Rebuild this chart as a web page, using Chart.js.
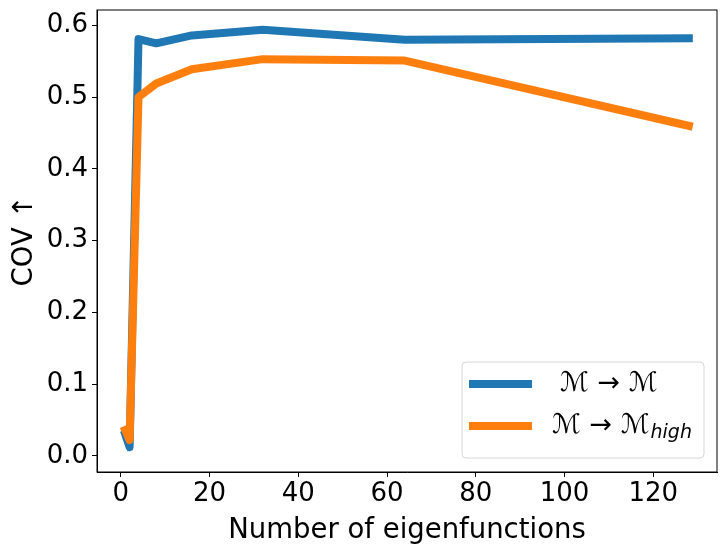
<!DOCTYPE html>
<html>
<head>
<meta charset="utf-8">
<script src="https://cdn.jsdelivr.net/npm/chart.js@4/dist/chart.umd.min.js"></script>
<style>
  html, body { margin: 0; padding: 0; background: #fff; }
  #wrap { width: 727px; height: 553px; }
</style>
</head>
<body>
<div id="wrap"><canvas id="myChart"></canvas></div>
<script>
var eigenCounts = [1, 2, 4, 8, 16, 32, 64, 128];
var covSame = [0.030, 0.012, 0.581, 0.575, 0.586, 0.594, 0.580, 0.582];
var covHigh = [0.036, 0.022, 0.500, 0.519, 0.539, 0.553, 0.551, 0.460];
var xTicks = [0, 20, 40, 60, 80, 100, 120];
var yTicks = [0.0, 0.1, 0.2, 0.3, 0.4, 0.5, 0.6];
var seriesNames = ['ℳ → ℳ', 'ℳ → ℳ'];
var seriesSub = ['', 'high'];

var blue = '#1f77b4';
var orange = '#ff7f0e';
var font = 'DejaVu Sans';

function toPoints(xs, ys) {
  return xs.map(function (x, i) { return { x: x, y: ys[i] }; });
}

// box round the plot and the legend in the lower right corner
var framePlugin = {
  id: 'frame',
  afterDraw: function (chart) {
    var c = chart.ctx;
    var a = chart.chartArea;
    c.save();
    c.strokeStyle = '#000';
    c.lineWidth = 1;
    c.strokeRect(a.left, a.top, a.right - a.left, a.bottom - a.top);

    var bx = a.right - 255, by = a.bottom - 110, bw = 242, bh = 96;
    c.beginPath();
    c.roundRect(bx, by, bw, bh, 4);
    c.fillStyle = 'rgba(255,255,255,0.8)';
    c.fill();
    c.strokeStyle = '#d6d6d6';
    c.stroke();

    var colors = [blue, orange];
    var textX = [bx + 98, bx + 90];
    for (var i = 0; i < 2; i++) {
      var ly = by + 22 + i * 42;
      c.strokeStyle = colors[i];
      c.lineWidth = 8;
      c.lineCap = 'butt';
      c.beginPath();
      c.moveTo(bx + 7, ly);
      c.lineTo(bx + 70, ly);
      c.stroke();

      c.fillStyle = '#000';
      c.textBaseline = 'middle';
      c.font = '27px "' + font + '"';
      c.fillText(seriesNames[i], textX[i], ly);
      if (seriesSub[i]) {
        var w = c.measureText(seriesNames[i]).width;
        c.font = 'italic 19px "' + font + '"';
        c.fillText(seriesSub[i], textX[i] + w + 1, ly + 7);
      }
    }
    c.restore();
  }
};

var ctx = document.getElementById('myChart');
var myChart = new Chart(ctx, {
  type: 'line',
  data: {
    datasets: [{
      label: seriesNames[0],
      data: toPoints(eigenCounts, covSame),
      borderColor: blue,
      backgroundColor: blue,
      borderWidth: 8,
      borderCapStyle: 'square',
      borderJoinStyle: 'round',
      pointRadius: 0,
      tension: 0,
      order: 1
    }, {
      label: seriesNames[1] + seriesSub[1],
      data: toPoints(eigenCounts, covHigh),
      borderColor: orange,
      backgroundColor: orange,
      borderWidth: 8,
      borderCapStyle: 'square',
      borderJoinStyle: 'round',
      pointRadius: 0,
      tension: 0,
      order: 0
    }]
  },
  options: {
    responsive: true,
    maintainAspectRatio: false,
    animation: false,
    layout: { padding: { left: 8, right: 10, top: 10, bottom: 6 } },
    plugins: {
      legend: { display: false },
      tooltip: { enabled: false }
    },
    scales: {
      x: {
        type: 'linear',
        min: -5.35,
        max: 134.35,
        afterBuildTicks: function (scale) {
          scale.ticks = xTicks.map(function (v) { return { value: v }; });
        },
        afterFit: function (scale) {
          scale.height = 75;
          scale.paddingLeft = 0;
          scale.paddingRight = 0;
        },
        grid: { drawOnChartArea: false, drawTicks: true, tickLength: 5, tickColor: '#000' },
        border: { display: true, color: '#000', width: 1 },
        ticks: {
          color: '#000',
          padding: 2,
          maxRotation: 0,
          font: { family: font, size: 26 },
          callback: function (v) { return String(v); }
        },
        title: {
          display: true,
          text: 'Number of eigenfunctions',
          color: '#000',
          padding: { top: 0, bottom: 0 },
          font: { family: font, size: 27.5 }
        }
      },
      y: {
        type: 'linear',
        min: -0.0225,
        max: 0.6215,
        afterBuildTicks: function (scale) {
          scale.ticks = yTicks.map(function (v) { return { value: v }; });
        },
        afterFit: function (scale) {
          scale.width = 89;
          scale.paddingTop = 0;
          scale.paddingBottom = 0;
        },
        grid: { drawOnChartArea: false, drawTicks: true, tickLength: 5, tickColor: '#000' },
        border: { display: true, color: '#000', width: 1 },
        ticks: {
          color: '#000',
          padding: 4,
          font: { family: font, size: 26 },
          callback: function (v) { return v.toFixed(1); }
        },
        title: {
          display: true,
          text: 'COV ↑',
          color: '#000',
          padding: { top: 0, bottom: 4 },
          font: { family: font, size: 27.5 }
        }
      }
    }
  },
  plugins: [framePlugin]
});
</script>
</body>
</html>
